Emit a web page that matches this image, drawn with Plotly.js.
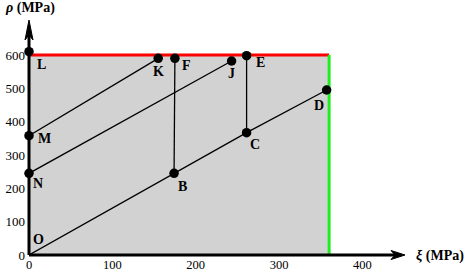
<!DOCTYPE html>
<html>
<head>
<meta charset="utf-8">
<script src="https://cdn.plot.ly/plotly-3.0.1.min.js"></script>
<style>html,body{margin:0;padding:0;background:#fff;}#chart{width:472px;height:272px;}</style>
</head>
<body>
<div id="chart"></div>
<script>
// ---- data ----
const pointNames = ['L', 'M', 'N', 'O', 'B', 'C', 'D', 'E', 'F', 'J', 'K'];
const pointXi    = [0,   0,   0,   0,   174, 261, 357, 261, 175, 243, 155];
const pointRho   = [610, 358, 245, 0,   245, 367, 495, 598, 590, 582, 590];
const markedPoints = ['L', 'M', 'N', 'B', 'C', 'D', 'E', 'F', 'J', 'K'];
const paths = [['O', 'B', 'C', 'D'], ['N', 'J'], ['M', 'K'], ['F', 'B'], ['E', 'C']];
const xiMax = 360;
const rhoMax = 600;
const xTickVals = [0, 100, 200, 300, 400];
const yTickVals = [0, 100, 200, 300, 400, 500, 600];
const xRange = [0, 451];
const yRange = [0, 705];

// ---- label offsets (pixels) ----
const labelShift = {
  L: [12, -13], M: [15, -3], N: [9, -10], O: [9, 16], B: [8, -13], C: [8, -12],
  D: [-8, -15], E: [14, -7], F: [12, -7], J: [0, -12], K: [0, -13]
};

const idx = n => pointNames.indexOf(n);
const serif = 'Liberation Serif, Times New Roman, serif';

const traces = [];
// feasible region
traces.push({
  x: [0, xiMax, xiMax, 0, 0], y: [0, 0, rhoMax, rhoMax, 0],
  mode: 'lines', fill: 'toself', fillcolor: '#d2d2d2',
  line: {width: 0, color: 'rgba(0,0,0,0)'}, hoverinfo: 'skip', showlegend: false
});
// red bound
traces.push({
  x: [0, xiMax], y: [rhoMax, rhoMax], mode: 'lines',
  line: {color: '#ff0000', width: 3}, showlegend: false
});
// green bound
traces.push({
  x: [xiMax, xiMax], y: [0, rhoMax], mode: 'lines',
  line: {color: '#1fef1f', width: 3}, showlegend: false
});
// black paths
paths.forEach(p => {
  traces.push({
    x: p.map(n => pointXi[idx(n)]), y: p.map(n => pointRho[idx(n)]),
    mode: 'lines', line: {color: '#000', width: 1.3}, showlegend: false
  });
});
// markers
traces.push({
  x: markedPoints.map(n => pointXi[idx(n)]), y: markedPoints.map(n => pointRho[idx(n)]),
  mode: 'markers', marker: {color: '#000', size: 9.5}, cliponaxis: false, showlegend: false
});

const annotations = pointNames.map(n => ({
  x: pointXi[idx(n)], y: pointRho[idx(n)], xref: 'x', yref: 'y',
  text: '<b>' + n + '</b>', showarrow: false,
  xshift: labelShift[n][0], yshift: labelShift[n][1],
  font: {family: serif, size: 14, color: '#000'}
}));
annotations.push({
  xref: 'paper', yref: 'paper', x: 0, y: 1, xanchor: 'left', yanchor: 'middle',
  xshift: -26, yshift: 12, showarrow: false,
  text: '<b><i>ρ</i> (MPa)</b>', font: {family: serif, size: 14, color: '#000'}
});
annotations.push({
  xref: 'paper', yref: 'paper', x: 1, y: 0, xanchor: 'left', yanchor: 'middle',
  xshift: 9, yshift: -1, showarrow: false,
  text: '<b><i>ξ</i> (MPa)</b>', font: {family: serif, size: 14, color: '#000'}
});

const shapes = [
  {type: 'line', xref: 'paper', yref: 'paper', x0: 0, y0: 0, x1: 0.985, y1: 0, line: {color: '#000', width: 3}},
  {type: 'line', xref: 'paper', yref: 'paper', x0: 0, y0: 0, x1: 0, y1: 0.96, line: {color: '#000', width: 3}},
  {type: 'path', xref: 'paper', yref: 'paper', xsizemode: 'pixel', ysizemode: 'pixel',
   xanchor: 1, yanchor: 0, path: 'M0,0 L-14,4.5 L-10,0 L-14,-4.5 Z',
   fillcolor: '#000', line: {color: '#000', width: 1}},
  {type: 'path', xref: 'paper', yref: 'paper', xsizemode: 'pixel', ysizemode: 'pixel',
   xanchor: 0, yanchor: 1, path: 'M0,0 L4,-20 L0,-15 L-4,-20 Z',
   fillcolor: '#000', line: {color: '#000', width: 1}}
];

const layout = {
  width: 472, height: 272,
  margin: {l: 29, r: 67, t: 20, b: 17, pad: 0},
  paper_bgcolor: '#fff', plot_bgcolor: '#fff',
  showlegend: false,
  xaxis: {range: xRange, tickvals: xTickVals, ticks: '', showgrid: false, zeroline: false,
          showline: false, fixedrange: true, ticklabelstandoff: 0,
          tickfont: {family: serif, size: 12.5, color: '#000'}},
  yaxis: {range: yRange, tickvals: yTickVals, ticks: '', showgrid: false, zeroline: false,
          showline: false, fixedrange: true, ticklabelstandoff: 3,
          tickfont: {family: serif, size: 13, color: '#000'}},
  annotations: annotations,
  shapes: shapes
};

Plotly.newPlot('chart', traces, layout, {displayModeBar: false, staticPlot: true});
</script>
</body>
</html>
